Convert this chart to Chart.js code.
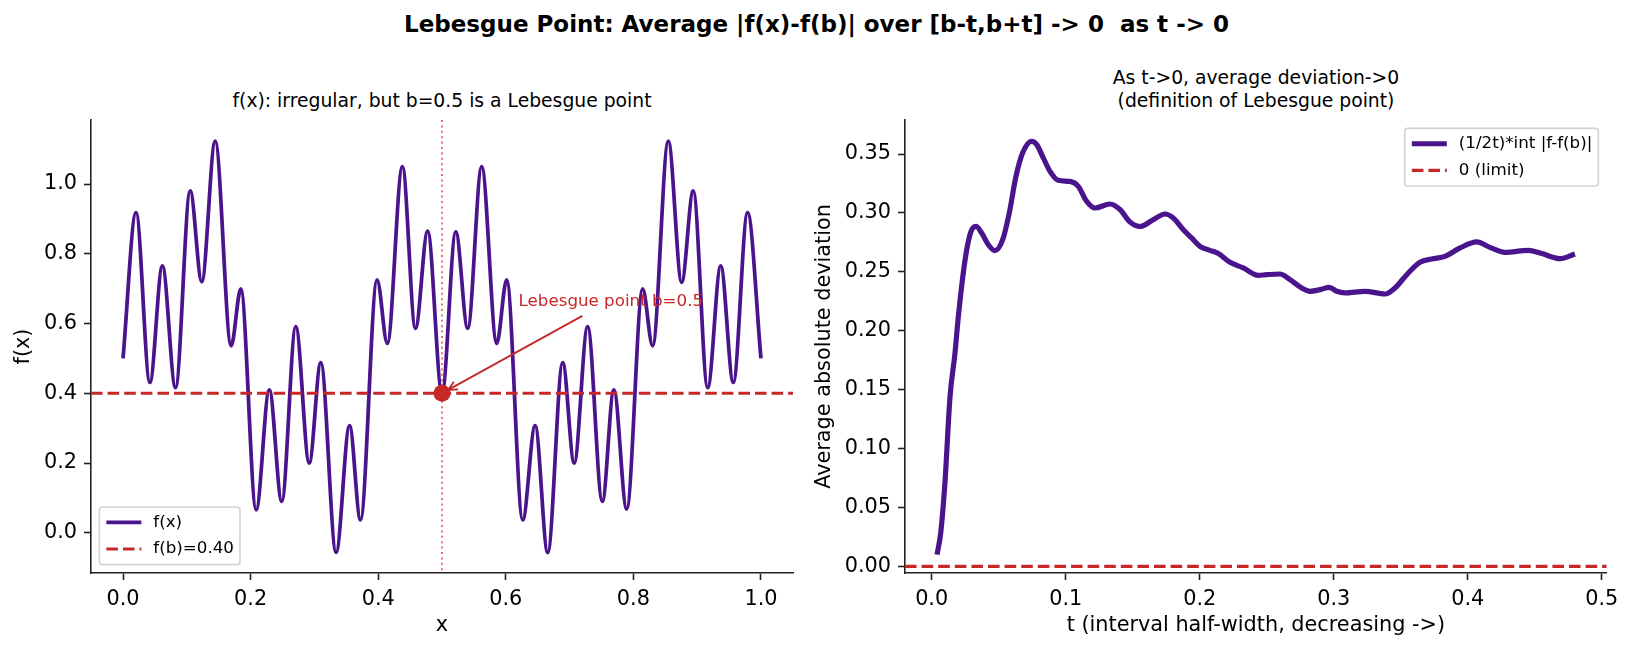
<!DOCTYPE html>
<html>
<head>
<meta charset="utf-8">
<script src="https://cdn.jsdelivr.net/npm/chart.js@4.4.1/dist/chart.umd.min.js"></script>
<style>
  body { margin: 0; background: #fff; width: 1633px; height: 652px; overflow: hidden; position: relative; font-family: 'DejaVu Sans', sans-serif; }
  canvas { position: absolute; left: 0; top: 0; }
  .t { position: absolute; white-space: pre; color: #000; text-align: center; transform: translateX(-50%); }
</style>
</head>
<body>
<div class="t" style="left:816.5px; top:12.8px; font-size:23px; font-weight:bold; line-height:23px;">Lebesgue Point: Average |f(x)-f(b)| over [b-t,b+t] -&gt; 0  as t -&gt; 0</div>
<div class="t" style="left:442px; top:91.6px; font-size:18.75px; line-height:18.75px;">f(x): irregular, but b=0.5 is a Lebesgue point</div>
<div class="t" style="left:1256px; top:67.3px; font-size:18.75px; line-height:22.5px;">As t-&gt;0, average deviation-&gt;0
(definition of Lebesgue point)</div>
<canvas id="left" width="1633" height="652"></canvas>
<canvas id="right" width="1633" height="652"></canvas>
<script>
// values
const fX = [0, 0.0204, 0.0421, 0.0617, 0.0823, 0.1053, 0.1234, 0.1445, 0.1695, 0.1846,
  0.2087, 0.2293, 0.2488, 0.2708, 0.2919, 0.3100, 0.3340, 0.3551, 0.3722, 0.3982,
  0.4143, 0.4379, 0.4584, 0.4775, 0.5000, 0.5216, 0.5403, 0.5622, 0.5858, 0.6014,
  0.6265, 0.6460, 0.6657, 0.6892, 0.7072, 0.7283, 0.7513, 0.7694, 0.7895, 0.8145,
  0.8302, 0.8547, 0.8757, 0.8938, 0.9165, 0.9369, 0.9566, 0.9790, 1.0];
const fY = [0.50, 0.918, 0.431, 0.765, 0.416, 0.980, 0.720, 1.123, 0.536, 0.699,
  0.066, 0.410, 0.090, 0.591, 0.200, 0.488, -0.056, 0.307, 0.037, 0.725,
  0.543, 1.050, 0.586, 0.865, 0.400, 0.863, 0.586, 1.050, 0.543, 0.725,
  0.037, 0.307, -0.057, 0.488, 0.200, 0.591, 0.090, 0.410, 0.068, 0.699,
  0.536, 1.123, 0.718, 0.980, 0.416, 0.765, 0.431, 0.918, 0.50];
const fb = 0.4;
const b = 0.5;

const tVals = [0.004, 0.0067, 0.0099, 0.0137, 0.0174, 0.0199, 0.0249, 0.0291, 0.0331, 0.0373,
  0.0423, 0.0472, 0.053, 0.0579, 0.0629, 0.0679, 0.0746, 0.0784, 0.0833, 0.0883,
  0.0945, 0.1032, 0.1094, 0.1157, 0.1219, 0.1331, 0.1405, 0.148, 0.1555, 0.1654,
  0.1741, 0.1803, 0.1878, 0.194, 0.2002, 0.2077, 0.2139, 0.2226, 0.2325, 0.2437,
  0.2499, 0.2599, 0.2674, 0.2761, 0.2823, 0.2898, 0.2967, 0.3022, 0.3084, 0.3234,
  0.3383, 0.3457, 0.3545, 0.3644, 0.3731, 0.3831, 0.3943, 0.4067, 0.4166, 0.4278,
  0.4452, 0.4552, 0.4689, 0.48];
const avgDev = [0.010, 0.028, 0.071, 0.144, 0.181, 0.212, 0.260, 0.2835, 0.2886, 0.283,
  0.273, 0.268, 0.2773, 0.300, 0.331, 0.351, 0.3608, 0.358, 0.3467, 0.3353,
  0.3277, 0.3268, 0.3226, 0.3098, 0.3042, 0.3076, 0.3029, 0.2923, 0.2885, 0.2943,
  0.2991, 0.2957, 0.2858, 0.2788, 0.2717, 0.2683, 0.2655, 0.2581, 0.2533, 0.247,
  0.2476, 0.2482, 0.2434, 0.2363, 0.2335, 0.2349, 0.2369, 0.2335, 0.2321, 0.2335,
  0.2312, 0.2363, 0.2476, 0.2581, 0.2609, 0.2632, 0.2703, 0.2754, 0.2708, 0.2666,
  0.2683, 0.2655, 0.2612, 0.2652];
const limitVal = 0;

const leftXTicks = [0, 0.2, 0.4, 0.6, 0.8, 1.0];
const leftYTicks = [0, 0.2, 0.4, 0.6, 0.8, 1.0];
const rightXTicks = [0, 0.1, 0.2, 0.3, 0.4, 0.5];
const rightYTicks = [0, 0.05, 0.10, 0.15, 0.20, 0.25, 0.30, 0.35];

const leftLegend = ['f(x)', 'f(b)=0.40'];
const rightLegend = ['(1/2t)*int |f-f(b)|', '0 (limit)'];
const annText = 'Lebesgue point b=0.5';
const annXY = [0.62, 0.65];
const annTail = [0.72, 0.622];

const purple = '#4a148c';
const red = '#c62828';
const ink = '#222';
const dash = [11.6, 5];

Chart.defaults.font.family = "'DejaVu Sans', sans-serif";
Chart.defaults.color = '#000';

function axis(pos, min, max, ticks, dec, size, title, tpad) {
  return {
    type: 'linear', position: pos, min: min, max: max,
    afterBuildTicks: s => { s.ticks = ticks.map(v => ({ value: v })); },
    afterFit: s => { if (pos === 'left') s.width = size; else s.height = size; },
    ticks: { autoSkip: false, maxRotation: 0, padding: 7, color: '#000', font: { size: 20.8 },
      callback: v => v.toFixed(dec) },
    grid: { drawOnChartArea: false, drawTicks: true, tickLength: 7, tickWidth: 1.6, tickColor: ink },
    border: { display: true, color: ink, width: 1.6 },
    title: { display: true, text: title, color: '#000', font: { size: 20.8, lineHeight: 1.2 }, padding: tpad }
  };
}

// matplotlib style legend box
function legendPlugin(labels, styles, corner) {
  return {
    id: 'boxLegend',
    afterDraw(chart) {
      const { ctx, chartArea } = chart;
      ctx.save();
      ctx.font = "16.7px 'DejaVu Sans'";
      const tw = Math.max(...labels.map(l => ctx.measureText(l).width));
      const w = 54 + tw + 6, h = 57.7, pad = 8.35;
      const x0 = corner === 'lower left' ? chartArea.left + pad : chartArea.right - pad - w;
      const y0 = corner === 'lower left' ? chartArea.bottom - pad - h : chartArea.top + pad;
      ctx.beginPath();
      ctx.roundRect(x0, y0, w, h, 3);
      ctx.fillStyle = 'rgba(255,255,255,0.8)';
      ctx.fill();
      ctx.strokeStyle = '#d3d3d3';
      ctx.lineWidth = 1.6;
      ctx.stroke();
      labels.forEach((l, i) => {
        const y = y0 + 15.4 + i * 26.6;
        const s = styles[i];
        ctx.beginPath();
        ctx.setLineDash(s.dash || []);
        ctx.strokeStyle = s.color;
        ctx.lineWidth = s.width;
        ctx.moveTo(x0 + 7, y);
        ctx.lineTo(x0 + 42, y);
        ctx.stroke();
        ctx.setLineDash([]);
        ctx.fillStyle = '#000';
        ctx.textBaseline = 'middle';
        ctx.fillText(l, x0 + 54, y);
      });
      ctx.restore();
    }
  };
}

const leftMarks = {
  id: 'leftMarks',
  beforeDatasetsDraw(chart) {
    const { ctx, chartArea, scales: { x } } = chart;
    const px = x.getPixelForValue(b);
    ctx.save();
    ctx.strokeStyle = 'rgba(214,60,60,0.7)';
    ctx.lineWidth = 2;
    ctx.setLineDash([2, 3.4]);
    ctx.beginPath();
    ctx.moveTo(px, chartArea.top);
    ctx.lineTo(px, chartArea.bottom);
    ctx.stroke();
    ctx.restore();
  },
  afterDatasetsDraw(chart) {
    const { ctx, scales: { x, y } } = chart;
    ctx.save();
    ctx.fillStyle = red;
    ctx.font = "16.7px 'DejaVu Sans'";
    ctx.textBaseline = 'alphabetic';
    ctx.fillText(annText, x.getPixelForValue(annXY[0]), y.getPixelForValue(annXY[1]));
    // arrow from text to the point
    const tx = x.getPixelForValue(annTail[0]), ty = y.getPixelForValue(annTail[1]);
    const hx0 = x.getPixelForValue(b), hy0 = y.getPixelForValue(fb);
    const ang = Math.atan2(hy0 - ty, hx0 - tx);
    const hx = hx0 - 7 * Math.cos(ang), hy = hy0 - 7 * Math.sin(ang);
    ctx.strokeStyle = red;
    ctx.lineWidth = 1.8;
    ctx.beginPath();
    ctx.moveTo(tx, ty);
    ctx.lineTo(hx, hy);
    ctx.moveTo(hx - 10 * Math.cos(ang - 0.45), hy - 10 * Math.sin(ang - 0.45));
    ctx.lineTo(hx, hy);
    ctx.lineTo(hx - 10 * Math.cos(ang + 0.45), hy - 10 * Math.sin(ang + 0.45));
    ctx.stroke();
    ctx.restore();
  }
};

const leftXMin = -0.0502, leftXMax = 1.0502;
new Chart(document.getElementById('left'), {
  type: 'line',
  data: {
    datasets: [
      { data: fX.map((v, i) => ({ x: v, y: fY[i] })), borderColor: purple, borderWidth: 3.75,
        pointRadius: 0, cubicInterpolationMode: 'monotone', order: 3 },
      { data: [{ x: leftXMin, y: fb }, { x: leftXMax, y: fb }], borderColor: red, borderWidth: 3.1,
        borderDash: dash, pointRadius: 0, order: 2 },
      { data: [{ x: b, y: fb }], showLine: false, pointRadius: 8.5, backgroundColor: red,
        borderWidth: 0, order: 1 }
    ]
  },
  options: {
    responsive: false, animation: false, events: [],
    layout: { autoPadding: false, padding: { left: 0, top: 120, right: 840, bottom: 0 } },
    plugins: { legend: { display: false }, tooltip: { enabled: false } },
    scales: {
      x: axis('bottom', leftXMin, leftXMax, leftXTicks, 1, 79, 'x', { top: 0, bottom: 13.5 }),
      y: axis('left', -0.1153, 1.1835, leftYTicks, 1, 91, 'f(x)', { top: 11.5, bottom: 0 })
    }
  },
  plugins: [leftMarks, legendPlugin(leftLegend,
    [{ color: purple, width: 3.75 }, { color: red, width: 3.1, dash: dash }], 'lower left')]
});

const rightXMin = -0.0199, rightXMax = 0.5037;
new Chart(document.getElementById('right'), {
  type: 'line',
  data: {
    datasets: [
      { data: tVals.map((v, i) => ({ x: v, y: avgDev[i] })), borderColor: purple, borderWidth: 5.2,
        pointRadius: 0, cubicInterpolationMode: 'monotone', order: 2 },
      { data: [{ x: rightXMin, y: limitVal }, { x: rightXMax, y: limitVal }], borderColor: red,
        borderWidth: 3.1, borderDash: dash, pointRadius: 0, order: 1 }
    ]
  },
  options: {
    responsive: false, animation: false, events: [],
    layout: { autoPadding: false, padding: { left: 790, top: 120, right: 26.3, bottom: 0 } },
    plugins: { legend: { display: false }, tooltip: { enabled: false } },
    scales: {
      x: axis('bottom', rightXMin, rightXMax, rightXTicks, 1, 79, 't (interval half-width, decreasing ->)', { top: 0, bottom: 13.5 }),
      y: axis('left', -0.0056, 0.3789, rightYTicks, 2, 115, 'Average absolute deviation', { top: 22.5, bottom: 0 })
    }
  },
  plugins: [legendPlugin(rightLegend,
    [{ color: purple, width: 5.2 }, { color: red, width: 3.1, dash: dash }], 'upper right')]
});
</script>
</body>
</html>
